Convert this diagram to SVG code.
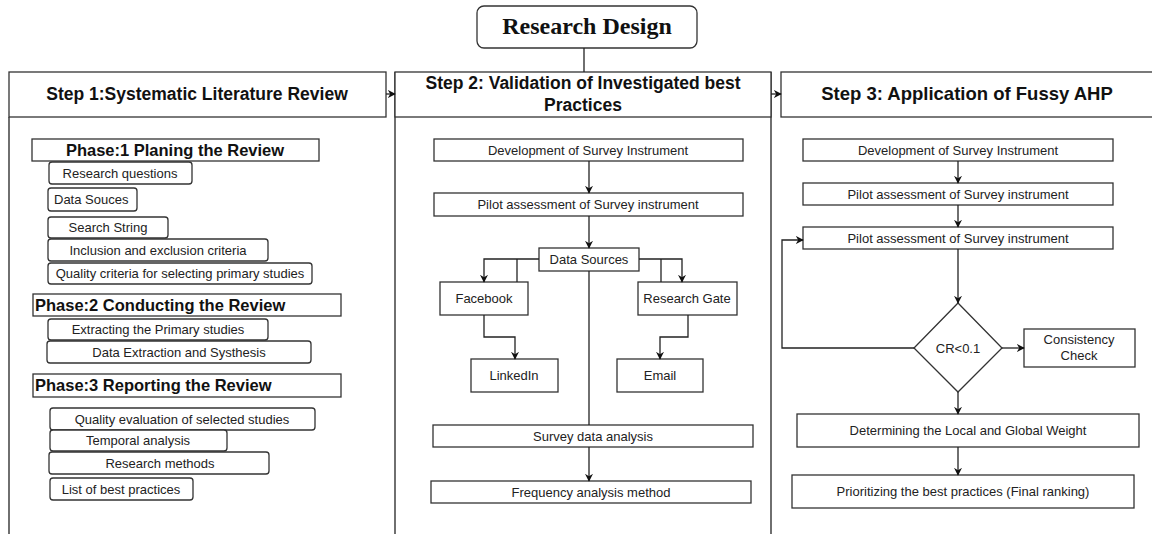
<svg xmlns="http://www.w3.org/2000/svg" width="1152" height="534" viewBox="0 0 1152 534">
<defs>
<marker id="ah" viewBox="0 0 10 10" refX="9" refY="5" markerWidth="8" markerHeight="8" markerUnits="userSpaceOnUse" orient="auto">
<path d="M0,0 L10,5 L0,10 L3,5 Z" fill="#111"/>
</marker>
</defs>
<style>
.b{fill:#fff;stroke:#333;stroke-width:1.3}
.t{font-family:"Liberation Sans",Arial,sans-serif;font-size:13px;fill:#222;text-anchor:middle}
.ts{font-family:"Liberation Sans",Arial,sans-serif;font-size:13px;fill:#222;text-anchor:start}
.h{font-family:"Liberation Sans",Arial,sans-serif;font-size:17.5px;font-weight:bold;fill:#111;text-anchor:middle}
.p{font-family:"Liberation Sans",Arial,sans-serif;font-size:16.5px;font-weight:bold;fill:#111}
.c{fill:none;stroke:#222;stroke-width:1.3}
.ca{fill:none;stroke:#222;stroke-width:1.3;marker-end:url(#ah)}
</style>
<rect width="1152" height="534" fill="#fff"/>

<g id="columns">
<line class="c" x1="9" y1="117" x2="9" y2="540"/>
<line class="c" x1="395" y1="72" x2="395" y2="540"/>
<line class="c" x1="771" y1="72" x2="771" y2="540"/>
</g>

<g id="title">
<rect class="b" x="477" y="6" width="220" height="42" rx="7"/>
<text x="587" y="34" style="font-family:'Liberation Serif','Times New Roman',serif;font-size:24px;font-weight:bold;fill:#111;text-anchor:middle">Research Design</text>
</g>

<g id="step1">
<rect class="b" x="9" y="72" width="377" height="45"/>
<text class="h" x="197" y="100">Step 1:Systematic Literature Review</text>
</g>
<g id="step2">
<rect class="b" x="395" y="72" width="376" height="45"/>
<text class="h" x="583" y="89">Step 2: Validation of Investigated best</text>
<text class="h" x="583" y="111">Practices</text>
</g>
<g id="step3">
<rect class="b" x="781" y="72" width="380" height="45"/>
<text class="h" x="967" y="100" style="font-size:18.5px">Step 3: Application of Fussy AHP</text>
</g>

<g id="phase1">
<rect class="b" x="32" y="139" width="287" height="22"/>
<text class="p" x="175" y="156" text-anchor="middle">Phase:1 Planing the Review</text>
</g>
<g id="rq"><rect class="b" x="49" y="162" width="143" height="22" rx="3"/><text class="t" x="120" y="178">Research questions</text></g>
<g id="ds1"><rect class="b" x="48" y="188" width="89" height="23" rx="3"/><text class="ts" x="54" y="204">Data Souces</text></g>
<g id="ss"><rect class="b" x="48" y="217" width="120" height="21" rx="3"/><text class="t" x="108" y="232">Search String</text></g>
<g id="iec"><rect class="b" x="48" y="239" width="220" height="22" rx="3"/><text class="t" x="158" y="255">Inclusion and exclusion criteria</text></g>
<g id="qc"><rect class="b" x="48" y="263" width="264" height="21" rx="3"/><text class="t" x="180" y="278">Quality criteria for selecting primary studies</text></g>

<g id="phase2">
<rect class="b" x="33" y="294" width="308" height="22"/>
<text class="p" x="35" y="311">Phase:2 Conducting the Review</text>
</g>
<g id="eps"><rect class="b" x="48" y="319" width="220" height="21" rx="3"/><text class="t" x="158" y="334">Extracting the Primary studies</text></g>
<g id="des"><rect class="b" x="47" y="341" width="264" height="22" rx="3"/><text class="t" x="179" y="357">Data Extraction and Systhesis</text></g>

<g id="phase3">
<rect class="b" x="33" y="374" width="308" height="23"/>
<text class="p" x="35" y="391">Phase:3 Reporting the Review</text>
</g>
<g id="qe"><rect class="b" x="50" y="408" width="265" height="22" rx="3"/><text class="t" x="182" y="424">Quality evaluation of selected studies</text></g>
<g id="ta"><rect class="b" x="50" y="430" width="177" height="21" rx="3"/><text class="t" x="138" y="445">Temporal analysis</text></g>
<g id="rm"><rect class="b" x="49" y="452" width="220" height="22" rx="3"/><text class="t" x="160" y="468">Research methods</text></g>
<g id="lbp"><rect class="b" x="50" y="478" width="143" height="22" rx="3"/><text class="t" x="121" y="494">List of best practices</text></g>

<g id="s2dev"><rect class="b" x="434" y="139" width="309" height="22"/><text class="t" x="588" y="155">Development of Survey Instrument</text></g>
<g id="s2pilot"><rect class="b" x="434" y="193" width="309" height="23"/><text class="t" x="588" y="209">Pilot assessment of Survey instrument</text></g>
<g id="s2ds"><rect class="b" x="539" y="248" width="100" height="23"/><text class="t" x="589" y="264">Data Sources</text></g>
<g id="fb"><rect class="b" x="440" y="282" width="88" height="33"/><text class="t" x="484" y="303">Facebook</text></g>
<g id="rg"><rect class="b" x="638" y="282" width="99" height="33"/><text class="t" x="687" y="303">Research Gate</text></g>
<g id="li"><rect class="b" x="471" y="359" width="87" height="33"/><text class="t" x="514" y="380">LinkedIn</text></g>
<g id="em"><rect class="b" x="617" y="359" width="86" height="33"/><text class="t" x="660" y="380">Email</text></g>
<g id="sda"><rect class="b" x="433" y="425" width="320" height="22"/><text class="t" x="593" y="441">Survey data analysis</text></g>
<g id="fam"><rect class="b" x="431" y="481" width="320" height="22"/><text class="t" x="591" y="497">Frequency analysis method</text></g>

<g id="s3dev"><rect class="b" x="803" y="139" width="310" height="22"/><text class="t" x="958" y="155">Development of Survey Instrument</text></g>
<g id="s3pilot1"><rect class="b" x="803" y="183" width="310" height="22"/><text class="t" x="958" y="199">Pilot assessment of Survey instrument</text></g>
<g id="s3pilot2"><rect class="b" x="803" y="227" width="310" height="22"/><text class="t" x="958" y="243">Pilot assessment of Survey instrument</text></g>
<g id="cr"><path class="b" d="M958,303 L1002,348 L958,392 L914,348 Z"/><text class="t" x="958" y="353">CR&lt;0.1</text></g>
<g id="cc"><rect class="b" x="1024" y="329" width="111" height="38"/><text class="t" x="1079" y="344">Consistency</text><text class="t" x="1079" y="360">Check</text></g>
<g id="dlg"><rect class="b" x="797" y="414" width="342" height="33"/><text class="t" x="968" y="435">Determining the Local and Global Weight</text></g>
<g id="pbp"><rect class="b" x="792" y="475" width="342" height="33"/><text class="t" x="963" y="496">Prioritizing the best practices (Final ranking)</text></g>

<g id="connectors">
<line class="c" x1="584" y1="48" x2="584" y2="72"/>
<line class="ca" x1="386" y1="94" x2="395" y2="94"/>
<line class="ca" x1="771" y1="94" x2="781" y2="94"/>
<line class="ca" x1="589" y1="161" x2="589" y2="193"/>
<line class="ca" x1="589" y1="216" x2="589" y2="248"/>
<polyline class="ca" points="539,259 484,259 484,282"/>
<line class="c" x1="517" y1="259" x2="517" y2="282"/>
<polyline class="ca" points="639,259 682,259 682,282"/>
<line class="c" x1="661" y1="259" x2="661" y2="282"/>
<polyline class="ca" points="484,315 484,337 515,337 515,359"/>
<polyline class="ca" points="688,315 688,337 660,337 660,359"/>
<line class="c" x1="589" y1="271" x2="589" y2="425"/>
<line class="ca" x1="589" y1="447" x2="589" y2="481"/>
<line class="ca" x1="958" y1="161" x2="958" y2="183"/>
<line class="ca" x1="958" y1="205" x2="958" y2="227"/>
<line class="ca" x1="958" y1="249" x2="958" y2="303"/>
<line class="ca" x1="1002" y1="348" x2="1024" y2="348"/>
<polyline class="ca" points="914,348 782,348 782,240 803,240"/>
<line class="ca" x1="958" y1="392" x2="958" y2="414"/>
<line class="ca" x1="958" y1="447" x2="958" y2="475"/>
</g>
</svg>
